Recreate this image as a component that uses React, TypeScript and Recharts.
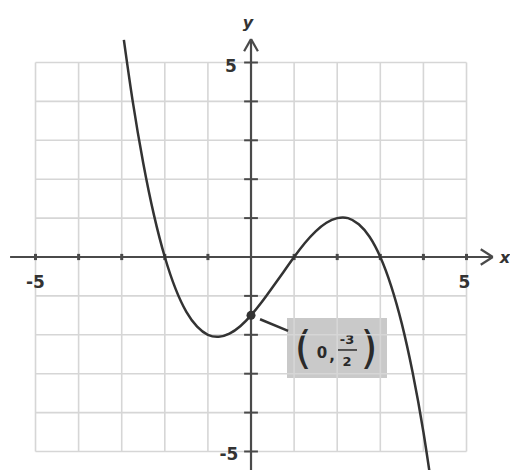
import { LineChart, Line, XAxis, YAxis, ReferenceLine, ReferenceDot, ReferenceArea } from "recharts";

// curve samples
const xValues = [-2.95, -2.75, -2.5, -2.25, -2, -1.75, -1.5, -1.25, -1, -0.75, -0.5, -0.25, 0, 0.25, 0.5, 0.75, 1, 1.25, 1.5, 1.75, 2, 2.25, 2.5, 2.75, 3, 3.25, 3.5, 3.75, 4, 4.25];
const yValues = [5.58, 4.04, 2.41, 1.07, 0, -0.82, -1.41, -1.79, -2.0, -2.05, -1.97, -1.78, -1.5, -1.16, -0.78, -0.39, 0, 0.36, 0.66, 0.88, 1.0, 1.0, 0.84, 0.52, 0, -0.74, -1.72, -2.97, -4.5, -6.35];

const gridTicks = [-5, -4, -3, -2, -1, 0, 1, 2, 3, 4, 5];
const xTickLabels = [
  { value: -5, label: "-5" },
  { value: 5, label: "5" },
];
const yTickLabels = [
  { value: 5, label: "5" },
  { value: -5, label: "-5" },
];
const markedPoint = { x: 0, y: -1.5 };

const data = xValues.map((x, i) => ({ x, y: yValues[i] }));

const AXIS = "#4a4a4a";
const GRID = "#d6d6d6";
const FONT = "'DejaVu Sans', Verdana, sans-serif";

const textLabel = (text: string, dx: number, dy: number, extra: any = {}) => (props: any) => {
  const vb = props && props.viewBox;
  if (!vb) return null;
  return (
    <text
      x={vb.x + dx}
      y={vb.y + dy}
      textAnchor="middle"
      dominantBaseline="central"
      fontFamily={FONT}
      fontWeight="bold"
      fontSize={17}
      fill="#333"
      {...extra}
    >
      {text}
    </text>
  );
};

const PointBox = (props: any) => {
  const vb = props && props.viewBox;
  if (!vb) return null;
  const { x, y } = vb;
  return (
    <g fontFamily={FONT} fill="#2a2a2a">
      <text x={x + 16} y={y + 30} fontSize={44} textAnchor="middle" dominantBaseline="central">(</text>
      <text x={x + 35} y={y + 35} fontSize={15} fontWeight="bold" textAnchor="middle" dominantBaseline="central">0</text>
      <text x={x + 45} y={y + 38} fontSize={15} fontWeight="bold" textAnchor="middle" dominantBaseline="central">,</text>
      <text x={x + 60} y={y + 22} fontSize={13} fontWeight="bold" textAnchor="middle" dominantBaseline="central">-3</text>
      <line x1={x + 51} x2={x + 70} y1={y + 32} y2={y + 32} stroke="#2a2a2a" strokeWidth={1.5} />
      <text x={x + 60} y={y + 44} fontSize={13} fontWeight="bold" textAnchor="middle" dominantBaseline="central">2</text>
      <text x={x + 82} y={y + 30} fontSize={44} textAnchor="middle" dominantBaseline="central">)</text>
    </g>
  );
};

export default function App() {
  return (
    <div style={{ position: "absolute", left: 0, top: 0, background: "#fff" }}>
      <LineChart width={510} height={470} data={data} margin={{ top: 0, right: 0, bottom: 0, left: 0 }}>
        <XAxis type="number" dataKey="x" domain={[-5.824, 6.009]} allowDataOverflow hide />
        <YAxis type="number" domain={[-5.476, 6.607]} allowDataOverflow hide />

        {gridTicks.map((t) => (
          <ReferenceLine key={`v${t}`} segment={[{ x: t, y: -5 }, { x: t, y: 5 }]} stroke={GRID} strokeWidth={1.6} />
        ))}
        {gridTicks.map((t) => (
          <ReferenceLine key={`h${t}`} segment={[{ x: -5, y: t }, { x: 5, y: t }]} stroke={GRID} strokeWidth={1.6} />
        ))}

        <ReferenceArea x1={0.835} x2={3.155} y1={-1.568} y2={-3.11} fill="#c9c9c9" fillOpacity={1} stroke="none" label={PointBox} />

        <ReferenceLine segment={[{ x: -5.59, y: 0 }, { x: 5.61, y: 0 }]} stroke={AXIS} strokeWidth={2.2} />
        <ReferenceLine segment={[{ x: 5.33, y: 0.2 }, { x: 5.61, y: 0 }]} stroke={AXIS} strokeWidth={2.2} />
        <ReferenceLine segment={[{ x: 5.33, y: -0.2 }, { x: 5.61, y: 0 }]} stroke={AXIS} strokeWidth={2.2} />
        <ReferenceLine segment={[{ x: 0, y: -5.476 }, { x: 0, y: 5.6 }]} stroke={AXIS} strokeWidth={2.2} />
        <ReferenceLine segment={[{ x: -0.16, y: 5.29 }, { x: 0, y: 5.6 }]} stroke={AXIS} strokeWidth={2.2} />
        <ReferenceLine segment={[{ x: 0.16, y: 5.29 }, { x: 0, y: 5.6 }]} stroke={AXIS} strokeWidth={2.2} />

        {gridTicks.filter((t) => t !== 0).map((t) => (
          <ReferenceLine key={`tx${t}`} segment={[{ x: t, y: -0.08 }, { x: t, y: 0.08 }]} stroke={AXIS} strokeWidth={3} />
        ))}
        {gridTicks.filter((t) => t !== 0).map((t) => (
          <ReferenceLine key={`ty${t}`} segment={[{ x: -0.16, y: t }, { x: 0.16, y: t }]} stroke={AXIS} strokeWidth={2} />
        ))}

        {xTickLabels.map((t) => (
          <ReferenceDot key={`lx${t.value}`} x={t.value} y={0} r={0} stroke="none" fill="none" label={textLabel(t.label, t.value < 0 ? 0 : -2, 25)} />
        ))}
        {yTickLabels.map((t) => (
          <ReferenceDot key={`ly${t.value}`} x={0} y={t.value} r={0} stroke="none" fill="none" label={textLabel(t.label, t.value < 0 ? -22 : -20, 3)} />
        ))}
        <ReferenceDot x={0} y={5.6} r={0} stroke="none" fill="none" label={textLabel("y", -3, -17, { fontStyle: "italic", fontSize: 16 })} />
        <ReferenceDot x={5.61} y={0} r={0} stroke="none" fill="none" label={textLabel("x", 12, 1, { fontStyle: "italic", fontSize: 16 })} />

        <ReferenceLine segment={[{ x: 0.21, y: -1.6 }, { x: 0.86, y: -1.9 }]} stroke="#333" strokeWidth={2.5} />

        <Line type="natural" dataKey="y" stroke="#333" strokeWidth={2.5} dot={false} activeDot={false} strokeLinecap="butt" isAnimationActive={false} />
        <ReferenceDot x={markedPoint.x} y={markedPoint.y} r={4.5} fill="#333" stroke="none" />
      </LineChart>
    </div>
  );
}
